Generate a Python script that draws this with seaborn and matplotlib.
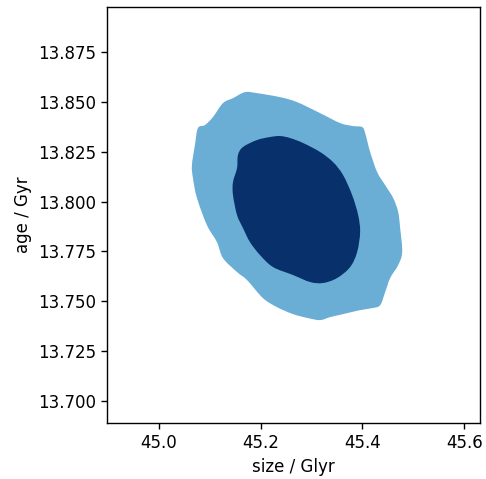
import matplotlib
matplotlib.use("Agg")
import matplotlib.pyplot as plt
from matplotlib.path import Path
from matplotlib.patches import PathPatch
import seaborn as sns
import numpy as np

# Credible-region boundaries (size / Glyr, age / Gyr)
outer_size = [45.1692, 45.1928, 45.2380, 45.2715, 45.3167, 45.3561, 45.3817, 45.3994,
              45.4053, 45.4151, 45.4289, 45.4446, 45.4604, 45.4702, 45.4741, 45.4781,
              45.4702, 45.4545, 45.4446, 45.4348, 45.4190, 45.3954, 45.3620, 45.3364,
              45.3167, 45.2931, 45.2636, 45.2321, 45.2046, 45.1731, 45.1535, 45.1259,
              45.1141, 45.0944, 45.0748, 45.0669, 45.0649, 45.0708, 45.0767, 45.0905,
              45.1062, 45.1259, 45.1456]
outer_age = [13.8549, 13.8544, 13.8524, 13.8499, 13.8444, 13.8394, 13.8379, 13.8374,
             13.8344, 13.8249, 13.8148, 13.8083, 13.8018, 13.7948, 13.7867, 13.7747,
             13.7682, 13.7617, 13.7546, 13.7481, 13.7466, 13.7456, 13.7436, 13.7421,
             13.7406, 13.7416, 13.7436, 13.7471, 13.7516, 13.7607, 13.7647, 13.7717,
             13.7797, 13.7882, 13.8018, 13.8118, 13.8183, 13.8284, 13.8369, 13.8384,
             13.8424, 13.8494, 13.8519]

inner_size = [45.2380, 45.2577, 45.2833, 45.3167, 45.3423, 45.3620, 45.3797, 45.3915,
              45.3954, 45.3895, 45.3758, 45.3502, 45.3226, 45.2971, 45.2636, 45.2243,
              45.1987, 45.1790, 45.1653, 45.1535, 45.1456, 45.1456, 45.1535, 45.1554,
              45.1653, 45.1928, 45.2184]
inner_age = [13.8329, 13.8319, 13.8294, 13.8249, 13.8198, 13.8133, 13.8033, 13.7933,
             13.7847, 13.7747, 13.7672, 13.7617, 13.7592, 13.7597, 13.7632, 13.7672,
             13.7732, 13.7797, 13.7867, 13.7933, 13.8033, 13.8098, 13.8168, 13.8234,
             13.8274, 13.8309, 13.8324]

x_ticks = [45.0, 45.2, 45.4, 45.6]
y_ticks = [13.700, 13.725, 13.750, 13.775, 13.800, 13.825, 13.850, 13.875]

plt.rcParams.update({
    "font.family": "DejaVu Sans",
    "font.size": 12,
    "axes.linewidth": 1.0,
    "xtick.major.size": 4.5,
    "ytick.major.size": 4.5,
    "xtick.major.width": 1.0,
    "ytick.major.width": 1.0,
})

cmap = sns.color_palette("Blues", as_cmap=True)
light = cmap(0.5)
dark = cmap(1.0)


def smooth_closed_path(xs, ys):
    """Closed Bezier path through the given vertices (Catmull-Rom tangents)."""
    p = np.column_stack([xs, ys])
    n = len(p)
    verts = [p[0]]
    codes = [Path.MOVETO]
    for i in range(n):
        p0, p1, p2, p3 = p[i - 1], p[i], p[(i + 1) % n], p[(i + 2) % n]
        c1 = p1 + (p2 - p0) / 6.0
        c2 = p2 - (p3 - p1) / 6.0
        verts += [c1, c2, p2]
        codes += [Path.CURVE4] * 3
    verts.append(p[0])
    codes.append(Path.CLOSEPOLY)
    return Path(verts, codes)


fig = plt.figure(figsize=(4.86, 4.79), dpi=100)
ax = fig.add_axes([107 / 486, 1 - 423 / 479, 373 / 486, 416 / 479])

ax.add_patch(PathPatch(smooth_closed_path(outer_size, outer_age), facecolor=light, lw=0))
ax.add_patch(PathPatch(smooth_closed_path(inner_size, inner_age), facecolor=dark, lw=0))

ax.set_xlim(44.898, 45.631)
ax.set_ylim(13.689, 13.8976)
ax.set_xticks(x_ticks)
ax.set_yticks(y_ticks)
ax.set_xticklabels([f"{v:.1f}" for v in x_ticks])
ax.set_yticklabels([f"{v:.3f}" for v in y_ticks])
ax.set_xlabel("size / Glyr")
ax.set_ylabel("age / Gyr")
sns.despine(ax=ax, top=False, right=False)

fig.savefig("out.png", dpi=100)
